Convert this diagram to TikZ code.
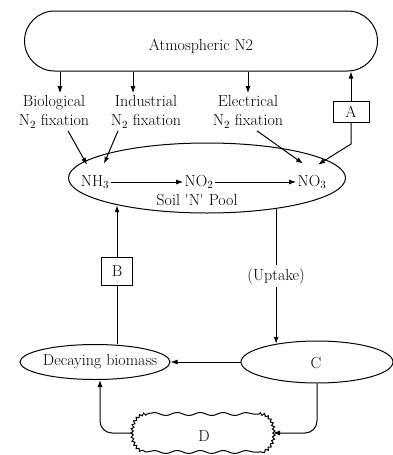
\documentclass[tikz,border=0pt]{standalone}
\usetikzlibrary{arrows.meta, positioning, calc, shapes.geometric, decorations.pathmorphing}

\begin{document}
\begin{tikzpicture}[
		x=1pt, y=-1pt,
		font=\fontsize{16}{19}\selectfont,
		line width=1pt,
		arrow/.style={-{Latex[length=7pt, width=5pt]}},
		fix/.style={align=center, inner sep=2pt},
		chem/.style={inner sep=1pt},
		keybox/.style={rectangle, draw=black, inner sep=0pt},
		oval/.style={ellipse, draw=black, inner sep=0pt},
		wavy/.style={decorate, decoration={snake, segment length=23pt, amplitude=1.5pt}},
		jag/.style={decorate, decoration={snake, segment length=4pt, amplitude=1.2pt}}
		]
		\useasboundingbox (0,0) rectangle (393,455);
		
		% 1. Atmospheric nitrogen
		\node[draw=black, rounded corners=30pt, minimum width=353pt, minimum height=60pt] (atm) at (201,41) {};
		\node at (201,46) {Atmospheric N2};
		
		% 2. Fixation routes
		\node[fix] (bio) at (54,112) {Biological\\N$_2$ fixation};
		\node[fix] (ind) at (146,112) {Industrial\\N$_2$ fixation};
		\node[fix] (elec) at (248,112) {Electrical\\N$_2$ fixation};
		\node[keybox, minimum width=36pt, minimum height=21pt] (A) at (351,112) {A};
		
		% 3. Soil N pool
		\node[oval, minimum width=277pt, minimum height=70pt] (pool) at (207,178) {};
		\node[chem] (nh3) at (95,182) {NH$_3$};
		\node[chem] (no2) at (199,182) {NO$_2$};
		\node[chem] (no3) at (312,182) {NO$_3$};
		\node[inner sep=1pt] (poollbl) at (197,200) {Soil \textquotesingle N\textquotesingle{} Pool};
		
		% 4. Lower cycle
		\node[keybox, minimum width=31pt, minimum height=28pt] (B) at (117,271) {B};
		\node[oval, minimum width=150pt, minimum height=35pt] (decay) at (95,362) {};
		\node at (100,362) {Decaying biomass};
		\node[oval, minimum width=152pt, minimum height=42pt] (C) at (317,362) {};
		\node at (316,363) {C};
		\node[minimum width=139pt, minimum height=37pt] (D) at (203,433) {};
		\node at (204,436) {D};
		\draw[wavy] ([xshift=14pt]D.north west) -- ([xshift=-14pt]D.north east);
		\draw[wavy] ([xshift=14pt]D.south west) -- ([xshift=-14pt]D.south east);
		\draw[jag] ([xshift=14pt]D.north west) to[out=180, in=90] (D.west) to[out=-90, in=180] ([xshift=14pt]D.south west);
		\draw[jag] ([xshift=-14pt]D.north east) to[out=0, in=90] (D.east) to[out=-90, in=0] ([xshift=-14pt]D.south east);
		
		% Arrows
		\draw[arrow] (atm.south -| 60,0) -- ([xshift=6pt]bio.north);
		\draw[arrow] (atm.south -| 133,0) -- ([xshift=-13pt]ind.north);
		\draw[arrow] (atm.south -| elec.north) -- (elec.north);
		\draw[arrow] (A.north) -- (A.north |- atm.south);
		
		\draw[arrow] ([xshift=14pt]bio.south) -- ([shift={(-8pt,9pt)}]nh3.north);
		\draw[arrow] ([xshift=-28pt]ind.south) -- ([shift={(9pt,10pt)}]nh3.north);
		\draw[arrow] ([xshift=9pt]elec.south) -- ([shift={(-9pt,10pt)}]no3.north);
		\draw[arrow] (A.south) -- ++(0,21) -- ([shift={(6pt,9pt)}]no3.north);
		
		\draw[arrow] (nh3) -- (no2);
		\draw[arrow] (no2) -- (no3);
		
		\draw[arrow] (pool.336) -- node[fill=white, inner sep=3pt] (uptake) {(Uptake)} (pool.336 |- C.156);
		\draw[arrow] (C.west) -- (decay.east);
		\draw (decay.north -| B.south) -- (B.south);
		\draw[arrow] (B.north) -- (B.north |- pool.197);
		\draw[arrow, rounded corners=12pt] (C.south) |- (D.east);
		\draw[arrow, rounded corners=12pt] (D.west) -| ([xshift=5pt]decay.south);
	\end{tikzpicture}
\end{document}
